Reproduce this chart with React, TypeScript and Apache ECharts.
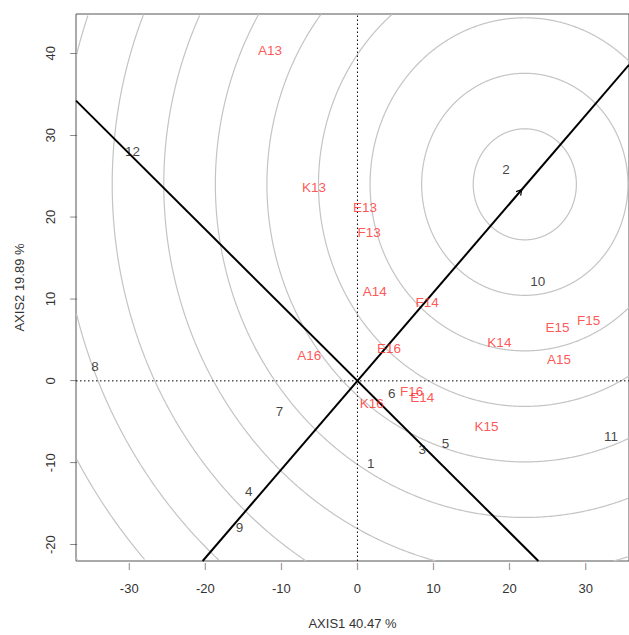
import React, { useEffect, useRef } from "react";
import * as echarts from "echarts";

// Axis limits and ticks
const xMin = -37.0;
const xMax = 35.7;
const yMin = -22.0;
const yMax = 44.8;
const xTicks = [-30, -20, -10, 0, 10, 20, 30];
const yTicks = [-20, -10, 0, 10, 20, 30, 40];

// Genotypes (black labels)
const genoNames = ["1", "2", "3", "4", "5", "6", "7", "8", "9", "10", "11", "12"];
const genoX = [1.75, 19.53, 8.52, -14.3, 11.59, 4.5, -10.26, -34.5, -15.5, 23.7, 33.34, -29.57];
const genoY = [-10.06, 25.8, -8.44, -13.5, -7.63, -1.55, -3.77, 1.78, -17.85, 12.1, -6.74, 27.98];

// Environments (red labels)
const envNames = ["A13", "K13", "E13", "F13", "A14", "F14", "K14", "E14", "A15", "E15", "F15", "K15", "A16", "E16", "F16", "K16"];
const envX = [-11.48, -5.7, 1.0, 1.53, 2.28, 9.17, 18.66, 8.52, 26.5, 26.3, 30.4, 16.96, -6.33, 4.15, 7.13, 1.89];
const envY = [40.3, 23.6, 21.2, 18.1, 10.95, 9.6, 4.66, -2.07, 2.63, 6.57, 7.37, -5.6, 3.1, 3.93, -1.26, -2.76];

// Lines through the origin (AEC abscissa and ordinate)
const lineSlopes = [1.081, -0.925];
// Average environment arrow tip
const arrowTip = [21.6, 23.35];
// Concentric circles
const circleCenter = [22.0, 24.0];
const circleRadii = [6.78, 13.56, 20.34, 27.12, 33.9, 40.68, 47.46, 54.24, 61.02, 67.8, 74.58, 81.36];

const FONT = "'Liberation Sans', Arial, sans-serif";
const TICK_LEN = 7;

const inBox = (x: number, y: number) => x >= xMin && x <= xMax && y >= yMin && y <= yMax;

// Segment of y = s*x that lies inside the plot box
const lineInBox = (s: number) => {
  const a = yMin / s;
  const b = yMax / s;
  const lo = Math.max(xMin, Math.min(a, b));
  const hi = Math.min(xMax, Math.max(a, b));
  return [[lo, s * lo], [hi, s * hi]];
};

export default function App() {
  const ref = useRef<HTMLDivElement>(null);
  useEffect(() => {
    if (!ref.current) return;
    const chart = echarts.init(ref.current, null, { renderer: "svg" });

    const labelSeries = (names: string[], xs: number[], ys: number[], color: string) => ({
      type: "scatter",
      symbol: "circle",
      symbolSize: 1,
      clip: false,
      itemStyle: { color: "transparent" },
      z: 10,
      silent: true,
      data: names.map((n, i) => ({ name: n, value: [xs[i], ys[i]] })),
      label: {
        show: true,
        position: "inside",
        formatter: (p: any) => p.name,
        color,
        fontSize: 13.5,
        fontFamily: FONT,
      },
    });

    const option: any = {
      animation: false,
      backgroundColor: "#fff",
      grid: {
        left: 76,
        top: 14,
        width: 555,
        height: 549,
        show: true,
        borderColor: "#555",
        borderWidth: 1,
        backgroundColor: "transparent",
      },
      xAxis: {
        type: "value",
        min: xMin,
        max: xMax,
        splitLine: { show: false },
        axisLine: { show: false, onZero: false },
        axisTick: { show: false },
        axisLabel: { customValues: xTicks, margin: 21, fontSize: 13, color: "#333", fontFamily: FONT },
        name: "AXIS1 40.47 %",
        nameLocation: "middle",
        nameGap: 56,
        nameTextStyle: { fontSize: 13, color: "#333", fontFamily: FONT },
      },
      yAxis: {
        type: "value",
        min: yMin,
        max: yMax,
        splitLine: { show: false },
        axisLine: { show: false, onZero: false },
        axisTick: { show: false },
        axisLabel: { customValues: yTicks, margin: 19, rotate: 90, fontSize: 13, color: "#333", fontFamily: FONT },
        name: "AXIS2 19.89 %",
        nameLocation: "middle",
        nameGap: 50,
        nameTextStyle: { fontSize: 13, color: "#333", fontFamily: FONT },
      },
      series: [
        {
          type: "custom",
          coordinateSystem: "cartesian2d",
          clip: false,
          silent: true,
          z: 1,
          data: circleRadii.map((r) => [circleCenter[0], circleCenter[1], r]),
          encode: { x: 0, y: 1 },
          renderItem: (params: any, api: any) => {
            const cx = api.value(0);
            const cy = api.value(1);
            const r = api.value(2);
            const runs: number[][][] = [];
            let cur: number[][] = [];
            const n = 1440;
            for (let i = 0; i <= n; i++) {
              const a = (i / n) * Math.PI * 2;
              const x = cx + r * Math.cos(a);
              const y = cy + r * Math.sin(a);
              if (inBox(x, y)) {
                cur.push(api.coord([x, y]));
              } else if (cur.length) {
                runs.push(cur);
                cur = [];
              }
            }
            if (cur.length) runs.push(cur);
            return {
              type: "group",
              children: runs
                .filter((pts) => pts.length > 1)
                .map((pts) => ({
                  type: "polyline",
                  shape: { points: pts },
                  style: { stroke: "#c4c4c4", fill: null, lineWidth: 1.2 },
                })),
            };
          },
        },
        {
          type: "line",
          z: 2,
          silent: true,
          clip: false,
          showSymbol: false,
          symbol: "none",
          data: [[0, yMin], [0, yMax]],
          lineStyle: { color: "#000", width: 1, type: [1.5, 2.5] },
        },
        {
          type: "line",
          z: 2,
          silent: true,
          clip: false,
          showSymbol: false,
          symbol: "none",
          data: [[xMin, 0], [xMax, 0]],
          lineStyle: { color: "#000", width: 1, type: [1.5, 2.5] },
        },
        ...lineSlopes.map((s) => ({
          type: "line",
          z: 3,
          silent: true,
          showSymbol: false,
          symbol: "none",
          clip: false,
          data: lineInBox(s),
          lineStyle: { color: "#000", width: 2 },
        })),
        {
          type: "custom",
          coordinateSystem: "cartesian2d",
          clip: false,
          silent: true,
          z: 4,
          data: [[arrowTip[0], arrowTip[1]]],
          encode: { x: 0, y: 1 },
          renderItem: (params: any, api: any) => {
            const tx = api.value(0);
            const ty = api.value(1);
            const tip = api.coord([tx, ty]);
            const back = api.coord([tx - 1, ty - lineSlopes[0]]);
            const ang = Math.atan2(back[1] - tip[1], back[0] - tip[0]);
            const len = 6;
            const spread = Math.PI / 6;
            const p1 = [tip[0] + len * Math.cos(ang + spread), tip[1] + len * Math.sin(ang + spread)];
            const p2 = [tip[0] + len * Math.cos(ang - spread), tip[1] + len * Math.sin(ang - spread)];
            return {
              type: "polyline",
              shape: { points: [p1, tip, p2] },
              style: { stroke: "#000", fill: null, lineWidth: 1.2 },
            };
          },
        },
        labelSeries(genoNames, genoX, genoY, "#111"),
        labelSeries(envNames, envX, envY, "#ff2a2a"),
      ],
    };
    chart.setOption(option);

    // Tick marks, placed through the chart's own scales (drawn as bar glyphs)
    const tickEls: any[] = [];
    xTicks.forEach((v) => {
      const p = chart.convertToPixel({ gridIndex: 0 }, [v, yMin]) as number[];
      tickEls.push({
        type: "text",
        x: p[0],
        y: p[1] + TICK_LEN / 2 + 0.5,
        silent: true,
        z: 20,
        style: { text: "|", fontSize: 7.5, fontFamily: FONT, fill: "#444", align: "center", verticalAlign: "middle" },
      });
    });
    yTicks.forEach((v) => {
      const p = chart.convertToPixel({ gridIndex: 0 }, [xMin, v]) as number[];
      tickEls.push({
        type: "text",
        x: p[0] - TICK_LEN / 2 - 0.5,
        y: p[1],
        rotation: Math.PI / 2,
        silent: true,
        z: 20,
        style: { text: "|", fontSize: 7.5, fontFamily: FONT, fill: "#444", align: "center", verticalAlign: "middle" },
      });
    });
    chart.setOption({ graphic: { elements: tickEls } });

    return () => chart.dispose();
  }, []);
  return (
    <div
      ref={ref}
      style={{ position: "absolute", left: 0, top: 0, width: 629, height: 635, background: "#fff" }}
    />
  );
}
